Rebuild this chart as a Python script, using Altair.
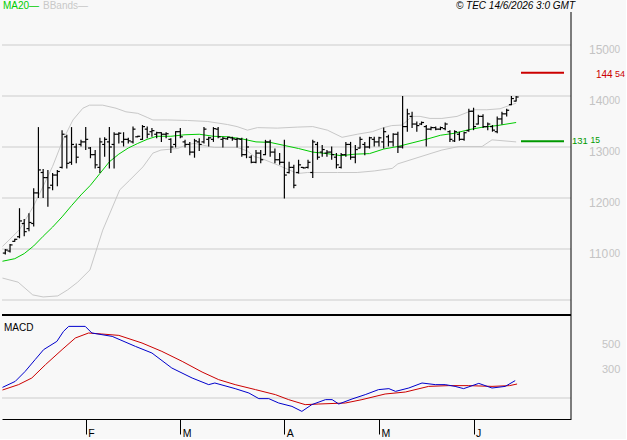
import altair as alt
import pandas as pd

# ---------------- data ----------------
highs = [110.0, 111.0, 112.0, 118.0, 115.9, 117.0, 121.9, 133.9, 125.7, 125.5, 124.9, 125.5, 133.3, 132.4, 133.9,
         130.7, 131.4, 133.9, 130.0, 129.4, 131.8, 131.9, 133.9, 132.9, 132.9, 132.9, 131.8,
         134.0, 132.2, 134.3, 134.0, 133.7, 133.0, 132.9, 132.9, 131.7, 133.1, 133.7, 131.4, 131.0, 131.6,
         131.7, 133.9, 132.0, 133.9, 133.9, 132.0, 132.0, 132.0, 131.8, 131.8, 131.7, 128.4, 129.4,
         129.4, 131.4, 131.4, 129.7, 128.8, 131.4, 127.1, 126.5, 127.5, 126.1, 127.5, 131.4, 131.0, 130.4,
         129.4, 130.1, 128.8, 128.8, 131.0, 131.0, 130.4, 132.0, 131.0, 132.0, 132.0, 132.0, 133.8,
         132.4, 132.7, 133.0, 140.0, 137.5, 136.9, 135.0, 135.0, 134.3, 134.0, 134.0, 134.0, 134.8, 133.3,
         133.3, 133.0, 133.0, 137.5, 137.7, 136.3, 136.4, 134.8, 134.3, 136.0, 136.9, 137.5, 140.0, 140.0]
lows = [108.9, 109.3, 111.4, 112.1, 112.5, 113.5, 114.4, 120.0, 120.0, 118.3, 121.5, 122.3, 125.8, 125.8, 126.5,
        126.8, 130.1, 129.4, 127.8, 125.8, 124.9, 128.1, 125.8, 125.8, 130.7, 130.1, 130.7,
        130.7, 131.9, 131.4, 131.7, 132.0, 131.7, 131.0, 131.7, 128.8, 129.9, 131.7, 129.9, 128.4, 127.9,
        129.2, 130.7, 130.1, 131.0, 131.7, 129.9, 131.4, 131.2, 129.9, 128.1, 127.8, 126.8, 126.8,
        126.8, 128.4, 128.1, 126.8, 126.5, 119.9, 124.8, 121.9, 124.8, 125.8, 125.8, 123.9, 127.5, 128.1,
        128.1, 127.5, 125.8, 125.8, 128.1, 127.5, 126.8, 129.7, 128.4, 129.7, 130.1, 130.1, 129.7,
        130.1, 130.1, 128.8, 129.7, 133.0, 133.7, 133.0, 134.3, 130.1, 133.3, 133.3, 133.3, 133.3, 131.0,
        131.0, 131.2, 131.2, 133.0, 133.3, 134.4, 133.7, 133.3, 133.0, 132.7, 134.4, 136.0, 138.2, 138.9]
opens = [109.2, 109.6, 111.5, 112.4, 115.0, 114.0, 115.0, 121.0, 125.0, 124.0, 122.5, 124.5, 126.0, 132.0, 127.0,
         130.0, 130.5, 131.0, 129.8, 128.5, 126.0, 130.5, 131.0, 130.5, 132.5, 131.0, 131.5,
         131.0, 132.0, 131.5, 133.5, 133.0, 132.5, 132.8, 132.5, 131.5, 130.5, 133.0, 131.0, 130.5, 129.0,
         131.0, 131.0, 131.5, 131.5, 133.5, 131.5, 131.6, 131.8, 131.5, 131.5, 128.5, 128.0, 127.0,
         128.8, 128.5, 131.0, 129.0, 127.5, 127.0, 125.0, 126.0, 125.0, 126.0, 126.0, 125.0, 130.5, 129.0,
         128.8, 129.0, 128.0, 126.0, 128.5, 130.5, 128.0, 129.8, 130.5, 130.0, 131.5, 131.0, 131.0,
         132.0, 131.0, 132.5, 130.0, 134.0, 136.0, 134.5, 134.5, 134.0, 133.5, 133.8, 133.5, 133.6, 133.0,
         131.2, 132.5, 131.5, 133.2, 137.0, 134.5, 136.0, 134.0, 134.0, 133.0, 135.5, 136.5, 138.3, 139.0]
closes = [109.8, 110.8, 111.9, 115.5, 113.4, 115.2, 121.0, 125.5, 124.0, 122.0, 124.5, 125.2, 132.5, 126.8, 130.5,
          128.0, 131.0, 131.5, 128.5, 126.5, 131.0, 131.5, 130.0, 132.5, 132.7, 131.5, 131.2,
          133.5, 132.1, 134.0, 132.5, 133.2, 132.8, 132.5, 132.6, 130.0, 133.0, 132.0, 130.5, 129.0, 131.2,
          130.5, 133.5, 131.8, 133.6, 132.0, 131.7, 131.9, 131.6, 131.6, 128.5, 130.0, 127.0, 128.8,
          127.5, 131.0, 129.0, 127.5, 127.0, 124.5, 126.0, 122.5, 126.5, 125.9, 127.0, 131.0, 128.0, 129.5,
          129.0, 128.5, 126.5, 128.5, 130.5, 128.0, 129.5, 131.5, 130.0, 131.8, 131.0, 131.8, 133.0,
          131.0, 132.5, 130.0, 134.0, 136.5, 134.5, 134.2, 134.8, 133.5, 133.8, 133.5, 133.8, 134.5, 131.5,
          133.0, 131.5, 132.8, 137.0, 134.0, 136.0, 134.0, 134.5, 133.3, 135.5, 136.5, 137.2, 139.5, 139.8]

ma_idx = [-0.6, 2, 4, 6, 8, 10, 12, 14, 16, 18, 20, 22, 24, 26, 28, 30, 32, 35, 38, 41, 44, 47, 50, 53, 56,
          59, 62, 65, 68, 71, 74, 77, 80, 83, 86, 89, 92, 95, 98, 101, 104, 108]
ma_val = [107.6, 108.1, 109.1, 110.6, 112.5, 114.3, 116.3, 118.5, 120.6, 122.5, 124.8, 127.1, 128.6, 129.8,
          130.7, 131.5, 132.1, 132.1, 132.4, 132.5, 132.1, 132.0, 131.6, 131.0, 130.9, 130.3, 129.7, 129.0,
          128.7, 128.3, 128.6, 128.7, 129.6, 130.1, 130.8, 131.5, 132.3, 132.7, 133.4, 133.9, 134.2, 134.8]

bb_up_idx = [-0.6, 1.6, 3, 5.9, 8, 10, 12.2, 14.3, 16.4, 17.8, 20.6, 23.4, 25.5, 28, 30, 31.2, 34.3, 38.5,
             42.8, 47, 49, 51.2, 53.3, 57.5, 61.7, 65, 68.1, 71.2, 74.4, 77.6, 80, 81.7, 83.9, 86, 87.7,
             89.8, 92.3, 95.5, 99.1, 101.8, 104.6, 108]
bb_up_val = [110.5, 112.5, 113.8, 118.3, 122.3, 126.2, 131.4, 135.3, 137.6, 138.2, 138.2, 137.6, 136.9,
             136.6, 135.8, 135.3, 135.3, 135.2, 135.0, 134.4, 134.0, 133.3, 133.8, 133.7, 133.9, 134.0,
             133.3, 131.9, 132.5, 133.0, 133.8, 134.2, 134.3, 136.0, 136.0, 135.6, 135.6, 136.0, 137.3,
             137.3, 137.5, 138.6]

bb_lo_idx = [-0.6, 2.7, 5.8, 8, 11.1, 13.2, 15.3, 17.9, 20.6, 24.2, 26.3, 29.1, 31.2, 32.9, 36.4, 38.5, 40,
             44.2, 49.1, 51.2, 52.7, 54, 57.5, 61.8, 63.9, 70.2, 74.4, 78, 81.8, 83, 90.2, 92.3, 95.9,
             100.8, 102.9, 108]
bb_lo_val = [104.3, 103.5, 101.0, 100.6, 100.8, 102.0, 103.5, 105.9, 113.7, 121.6, 123.5, 126.1, 128.8,
             129.4, 129.7, 130.5, 130.7, 129.9, 129.9, 129.2, 128.1, 127.8, 126.5, 124.8, 125.0, 125.0,
             125.0, 125.3, 125.8, 126.7, 128.8, 129.4, 130.1, 130.1, 131.4, 131.0]

macd_idx = [-0.6, 2.1, 4.2, 6.3, 8.1, 10.9, 12.3, 13.4, 16.9, 18.3, 22.6, 27.5, 31.0, 35.2, 39.5, 43.0, 44.3,
            48.6, 51.5, 53.6, 55.7, 57.8, 60.6, 62.7, 64.8, 67.7, 69.1, 70.5, 73.3, 76.1, 78.9, 81.1, 82.5,
            85.3, 88.1, 90.9, 93.0, 95.1, 96.9, 100.1, 102.9, 105.7, 107.8]
macd_val = [85, 133, 213, 307, 387, 453, 533, 573, 573, 520, 493, 413, 360, 240, 160, 107, 120, 75, 40, -5,
            -5, -40, -67, -107, -53, -13, -13, -48, -8, 27, 67, 75, 53, 80, 120, 107, 107, 93, 75, 117, 80,
            93, 139]
sig_idx = [-0.6, 2.8, 5.6, 8.5, 12.0, 14.8, 17.6, 20.4, 24.0, 28.9, 33.1, 37.4, 41.6, 45.1, 48.6, 52.9, 57.1,
           59.9, 63.4, 66.3, 71.9, 75.4, 80.3, 84.6, 89.5, 93.7, 97.9, 102.9, 106.6, 108.2]
sig_val = [64, 107, 160, 267, 387, 480, 520, 512, 501, 440, 373, 293, 208, 147, 107, 67, 27, -13, -53, -48,
           -40, -13, 32, 48, 93, 99, 99, 93, 99, 112]

month_idx = [17, 37, 59, 79, 99]
month_lbl = ["F", "M", "A", "M", "J"]
price_grid = [100, 110, 120, 130, 140, 150]
price_labels = [110, 120, 130, 140, 150]
macd_grid = [0]
macd_labels = [500, 300]
resistance = 144.54
support = 131.15

# ---------------- styling ----------------
FONT = "Liberation Sans"
BG = "#f8f8f8"
GRID = "#cccccc"
LABEL_GRAY = "#c4c4c4"
MA_GREEN = "#00cc00"
LEVEL_GREEN = "#009900"
RED = "#cc0000"
BLUE = "#0000cc"
BB_GRAY = "#c8c8c8"

W = 569
H_UP = 315
H_LO = 104

xs = alt.Scale(domain=[-0.7, 119.6], nice=False, zero=False)
ps = alt.Scale(domain=[97.06, 158.82], nice=False, zero=False)
ms = alt.Scale(domain=[-168, 664], nice=False, zero=False)

one = pd.DataFrame({"k": [0]})


def X(field):
    return alt.X(field, type="quantitative", scale=xs, axis=None)


def PY(field):
    return alt.Y(field, type="quantitative", scale=ps, axis=None)


def MY(field):
    return alt.Y(field, type="quantitative", scale=ms, axis=None)


# ---------------- upper panel ----------------
bars = pd.DataFrame({"i": list(range(len(highs))), "o": opens, "h": highs, "l": lows, "c": closes})

grid_up = alt.Chart(pd.DataFrame({"p": price_grid})).mark_rule(color=GRID, strokeWidth=1).encode(y=PY("p"))

bb_up = alt.Chart(pd.DataFrame({"i": bb_up_idx, "v": bb_up_val})).mark_line(
    color=BB_GRAY, strokeWidth=1).encode(x=X("i"), y=PY("v"))
bb_lo = alt.Chart(pd.DataFrame({"i": bb_lo_idx, "v": bb_lo_val})).mark_line(
    color=BB_GRAY, strokeWidth=1).encode(x=X("i"), y=PY("v"))
ma = alt.Chart(pd.DataFrame({"i": ma_idx, "v": ma_val})).mark_line(
    color=MA_GREEN, strokeWidth=1).encode(x=X("i"), y=PY("v"))

hl = alt.Chart(bars).mark_rule(color="black", strokeWidth=1.2).encode(x=X("i"), y=PY("l"), y2="h")
op = alt.Chart(bars).mark_rule(color="black", strokeWidth=1.2, xOffset=-2.5).encode(
    x=X("i"), x2="i", y=PY("o"))
cl = alt.Chart(bars).mark_rule(color="black", strokeWidth=1.2, x2Offset=2.5).encode(
    x=X("i"), x2="i", y=PY("c"))

levels = pd.DataFrame({
    "p": [resistance, support],
    "whole": [str(int(resistance)), str(int(support))],
    "frac": [f"{round(resistance * 100) % 100:02d}", f"{round(support * 100) % 100:02d}"],
})
res_line = alt.Chart(levels.iloc[[0]]).mark_rule(color=RED, strokeWidth=2).encode(
    x=alt.value(519), x2=alt.value(562), y=PY("p"))
sup_line = alt.Chart(levels.iloc[[1]]).mark_rule(color=LEVEL_GREEN, strokeWidth=2).encode(
    x=alt.value(519), x2=alt.value(562), y=PY("p"))
res_t1 = alt.Chart(levels.iloc[[0]]).mark_text(
    align="left", baseline="top", fontSize=10, font=FONT, color=RED, dy=-3).encode(
    x=alt.value(594), y=PY("p"), text="whole:N")
res_t2 = alt.Chart(levels.iloc[[0]]).mark_text(
    align="left", baseline="top", fontSize=9, font=FONT, color=RED, dy=-3).encode(
    x=alt.value(613), y=PY("p"), text="frac:N")
sup_t1 = alt.Chart(levels.iloc[[1]]).mark_text(
    align="left", baseline="bottom", fontSize=9.5, font=FONT, color=LEVEL_GREEN, dy=5).encode(
    x=alt.value(570), y=PY("p"), text="whole:N")
sup_t2 = alt.Chart(levels.iloc[[1]]).mark_text(
    align="left", baseline="bottom", fontSize=8.5, font=FONT, color=LEVEL_GREEN, dy=4).encode(
    x=alt.value(588.5), y=PY("p"), text="frac:N")

plabs = pd.DataFrame({"p": price_labels, "t": [str(v) for v in price_labels], "s": ["00"] * len(price_labels)})
plab_main = alt.Chart(plabs).mark_text(
    align="left", baseline="top", fontSize=12, font=FONT, color=LABEL_GRAY).encode(
    x=alt.value(587), y=PY("p"), text="t:N")
plab_sup = alt.Chart(plabs).mark_text(
    align="left", baseline="top", fontSize=10, font=FONT, color=LABEL_GRAY).encode(
    x=alt.value(607), y=PY("p"), text="s:N")

right_up = alt.Chart(one).mark_rule(color="black", strokeWidth=1).encode(
    x=alt.value(W), y=alt.value(12), y2=alt.value(H_UP))

leg_ma = alt.Chart(one).mark_text(align="left", baseline="top", fontSize=10, font=FONT, color=MA_GREEN).encode(
    x=alt.value(1), y=alt.value(0.5), text=alt.value("MA20\u2014"))
leg_bb = alt.Chart(one).mark_text(align="left", baseline="top", fontSize=10, font=FONT, color=BB_GRAY).encode(
    x=alt.value(41), y=alt.value(0.5), text=alt.value("BBands\u2014"))
copy = alt.Chart(one).mark_text(align="right", baseline="top", fontSize=10, font=FONT, fontStyle="italic",
                                color="black").encode(
    x=alt.value(573), y=alt.value(1), text=alt.value("\u00a9 TEC 14/6/2026 3:0 GMT"))

upper = alt.layer(
    grid_up, bb_up, bb_lo, ma, hl, op, cl, res_line, sup_line,
    res_t1, res_t2, sup_t1, sup_t2, plab_main, plab_sup, right_up, leg_ma, leg_bb, copy
).properties(width=W, height=H_UP)

# ---------------- lower panel ----------------
label_expr = " : ".join(
    f"datum.value == {i} ? '{m}'" for i, m in zip(month_idx, month_lbl)) + " : ''"
xaxis = alt.Axis(
    values=month_idx, labelExpr=label_expr, title=None, grid=False,
    domain=True, domainColor="black", domainWidth=1,
    ticks=True, tickColor="black", tickSize=15, tickWidth=1,
    labelAlign="left", labelBaseline="top", labelPadding=-6, labelOffset=2,
    labelFontSize=10.5, labelFont=FONT, labelColor="black",
    labelFlush=False, labelOverlap=False,
)


def XL(field):
    return alt.X(field, type="quantitative", scale=xs, axis=xaxis)


grid_lo = alt.Chart(pd.DataFrame({"v": macd_grid})).mark_rule(color=GRID, strokeWidth=1).encode(y=MY("v"))
sig = alt.Chart(pd.DataFrame({"i": sig_idx, "v": sig_val})).mark_line(color=RED, strokeWidth=1).encode(
    x=XL("i"), y=MY("v"))
macd = alt.Chart(pd.DataFrame({"i": macd_idx, "v": macd_val})).mark_line(color=BLUE, strokeWidth=1).encode(
    x=XL("i"), y=MY("v"))
mlabs = alt.Chart(pd.DataFrame({"v": macd_labels, "t": [str(v) for v in macd_labels]})).mark_text(
    align="left", baseline="top", fontSize=11, font=FONT, color=LABEL_GRAY, dy=3).encode(
    x=alt.value(600), y=MY("v"), text="t:N")
mtitle = alt.Chart(one).mark_text(align="left", baseline="top", fontSize=10, font=FONT, color="black").encode(
    x=alt.value(2), y=alt.value(7.5), text=alt.value("MACD"))
top_lo = alt.Chart(one).mark_rule(color="black", strokeWidth=2).encode(
    x=alt.value(0), x2=alt.value(W), y=alt.value(0))
right_lo = alt.Chart(one).mark_rule(color="black", strokeWidth=1).encode(
    x=alt.value(W), y=alt.value(0), y2=alt.value(H_LO))

lower = alt.layer(grid_lo, sig, macd, mlabs, mtitle, top_lo, right_lo).properties(width=W, height=H_LO)

chart = alt.vconcat(upper, lower, spacing=0, bounds="flush").configure(
    background=BG, padding=0
).configure_view(strokeWidth=0)

chart.save("out.html", embed_options={"renderer": "svg", "actions": False})
